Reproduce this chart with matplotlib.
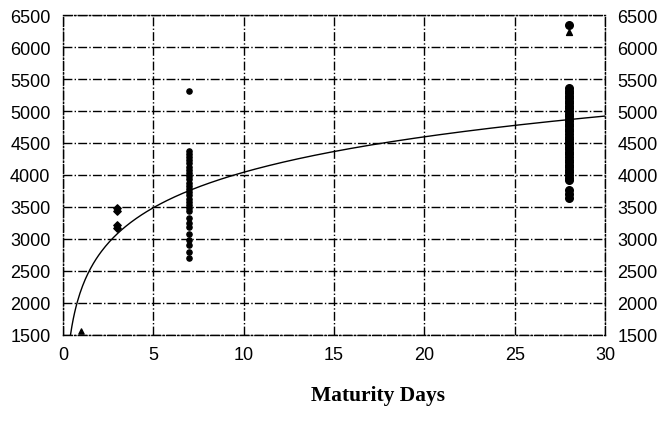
import numpy as np
import matplotlib.pyplot as plt

# scatter data (days, strength)
days_1 = [1]
vals_1 = [1560]
days_3 = [3, 3, 3, 3]
vals_3 = [3490, 3440, 3220, 3170]
vals_7 = [5310, 4380, 4330, 4280, 4230, 4180, 4130, 4080, 4030, 3980, 3930,
          3880, 3830, 3780, 3730, 3680, 3630, 3580, 3530, 3480, 3430,
          3330, 3250, 3180, 3080, 2980, 2900, 2800, 2700]
vals_28 = [6340, 5360, 5320, 5280, 5240, 5200, 5160, 5120, 5080, 5040, 5000,
           4960, 4920, 4880, 4840, 4800, 4760, 4720, 4680, 4640, 4600,
           4560, 4520, 4480, 4440, 4400, 4360, 4320, 4280, 4240, 4200,
           4160, 4120, 4080, 4040, 4000, 3960, 3920, 3760, 3700, 3640]
tri_days = [28]
tri_vals = [6240]

# logarithmic trend line coefficients: y = a + b*ln(x)
trend_a = 2200
trend_b = 800

fig = plt.figure(figsize=(6.63, 4.35), dpi=100)
ax = fig.add_axes([0.095, 0.228, 0.8175, 0.735])

ax.scatter(days_1, vals_1, marker="^", s=14, color="black", zorder=3)
ax.scatter(days_3, vals_3, marker="D", s=14, color="black", zorder=3)
ax.scatter([7] * len(vals_7), vals_7, marker="o", s=14, color="black", zorder=3)
ax.scatter([28] * len(vals_28), vals_28, marker="o", s=30, color="black", zorder=3)
ax.scatter(tri_days, tri_vals, marker="^", s=18, color="black", zorder=3)

xs = np.linspace(0.42, 30, 400)
ax.plot(xs, trend_a + trend_b * np.log(xs), color="black", lw=1, zorder=2)

ax.set_xlim(0, 30)
ax.set_ylim(1500, 6500)
ax.set_xticks(range(0, 31, 5))
ax.set_yticks(range(1500, 6501, 500))
ax.grid(True, color="black", linestyle="-.", linewidth=1)
ax.set_axisbelow(True)
for sp in ax.spines.values():
    sp.set_linestyle("-.")
    sp.set_linewidth(1)

ax.tick_params(length=0, labelsize=13, pad=8,
               right=True, labelright=True)
ax.tick_params(axis="y", pad=9)
for lab in ax.get_xticklabels() + ax.get_yticklabels():
    lab.set_family("Liberation Sans")

fig.text(0.57, 0.09, "Maturity Days", ha="center", va="center", fontsize=15.5,
         fontweight="bold", family="Liberation Serif")

fig.savefig("out.png", dpi=100)
